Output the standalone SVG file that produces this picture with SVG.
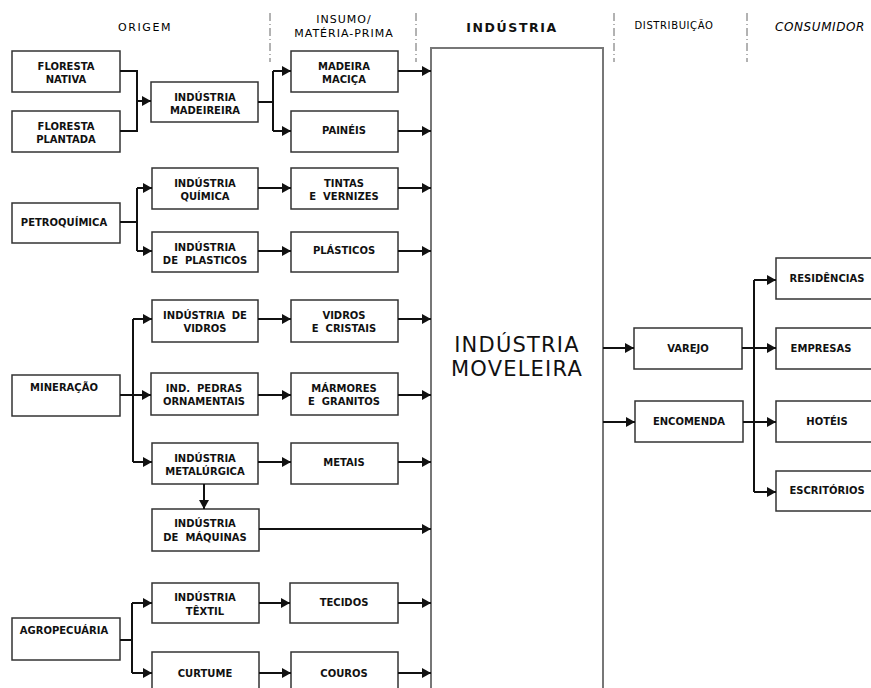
<svg xmlns="http://www.w3.org/2000/svg" width="871" height="688" viewBox="0 0 871 688">
<defs>
<marker id="ah" markerWidth="10" markerHeight="11" refX="9" refY="5.5" orient="auto" markerUnits="userSpaceOnUse"><path d="M0,0.5 L9,5.5 L0,10.5 Z" fill="#111"/></marker>
<style>
.bx{fill:#fff;stroke:#333;stroke-width:1.5}
.big{fill:#fff;stroke:#777;stroke-width:2}
.t{font-family:"DejaVu Sans",sans-serif;font-size:10px;font-weight:bold;fill:#111;text-anchor:middle}
.h{font-family:"DejaVu Sans",sans-serif;font-size:11px;fill:#000;text-anchor:middle;letter-spacing:1px}
.sep{stroke:#666;stroke-width:1;stroke-dasharray:8 3 1 3;fill:none}
.c{fill:none;stroke:#111;stroke-width:2}
.a{fill:none;stroke:#111;stroke-width:2;marker-end:url(#ah)}
</style>
</defs>
<rect width="871" height="688" fill="#fff"/>
<g id="headers">
<text class="h" x="145" y="31" style="letter-spacing:1.6px">ORIGEM</text>
<text class="h" x="344" y="23">INSUMO/</text>
<text class="h" x="344" y="37">MATÉRIA-PRIMA</text>
<text class="t" x="512" y="32" style="font-size:12.5px;letter-spacing:1.6px">INDÚSTRIA</text>
<text class="h" x="674" y="29" style="font-size:10px;letter-spacing:0.6px">DISTRIBUIÇÃO</text>
<text class="h" x="820" y="31" style="font-size:12px;font-style:italic;letter-spacing:0.6px">CONSUMIDOR</text>
<path class="sep" d="M270 13 V62 M416 13 V62 M614 13 V62 M747 13 V62"/>
</g>
<g id="industria_moveleira">
<rect class="big" x="431" y="48" width="172" height="660"/>
<text class="t" x="517" y="352" style="font-size:21px;font-weight:normal;letter-spacing:1.2px">INDÚSTRIA</text>
<text class="t" x="517" y="376" style="font-size:21px;font-weight:normal;letter-spacing:1.2px">MOVELEIRA</text>
</g>
<g id="floresta_nativa"><rect class="bx" x="12" y="51" width="108" height="41"/><text class="t" x="66" y="70">FLORESTA</text><text class="t" x="66" y="83">NATIVA</text></g>
<g id="floresta_plantada"><rect class="bx" x="12" y="111" width="108" height="41"/><text class="t" x="66" y="130">FLORESTA</text><text class="t" x="66" y="143">PLANTADA</text></g>
<g id="petroquimica"><rect class="bx" x="12" y="203" width="108" height="40"/><text class="t" x="64" y="226">PETROQUÍMICA</text></g>
<g id="mineracao"><rect class="bx" x="12" y="375" width="108" height="41"/><text class="t" x="64" y="391">MINERAÇÃO</text></g>
<g id="agropecuaria"><rect class="bx" x="12" y="618" width="108" height="42"/><text class="t" x="64" y="634">AGROPECUÁRIA</text></g>
<g id="ind_madeireira"><rect class="bx" x="151" y="82" width="107" height="40"/><text class="t" x="205" y="101">INDÚSTRIA</text><text class="t" x="205" y="114">MADEIREIRA</text></g>
<g id="ind_quimica"><rect class="bx" x="152" y="168" width="106" height="41"/><text class="t" x="205" y="187">INDÚSTRIA</text><text class="t" x="205" y="200">QUÍMICA</text></g>
<g id="ind_plasticos"><rect class="bx" x="152" y="232" width="106" height="40"/><text class="t" x="205" y="251">INDÚSTRIA</text><text class="t" x="205" y="264" xml:space="preserve">DE  PLASTICOS</text></g>
<g id="ind_vidros"><rect class="bx" x="152" y="300" width="106" height="42"/><text class="t" x="205" y="319" xml:space="preserve">INDÚSTRIA  DE</text><text class="t" x="205" y="332">VIDROS</text></g>
<g id="ind_pedras"><rect class="bx" x="151" y="373" width="107" height="42"/><text class="t" x="204" y="392" xml:space="preserve">IND.  PEDRAS</text><text class="t" x="204" y="405">ORNAMENTAIS</text></g>
<g id="ind_metalurgica"><rect class="bx" x="152" y="443" width="106" height="41"/><text class="t" x="205" y="462">INDÚSTRIA</text><text class="t" x="205" y="475">METALÚRGICA</text></g>
<g id="ind_maquinas"><rect class="bx" x="152" y="509" width="107" height="42"/><text class="t" x="205" y="527">INDÚSTRIA</text><text class="t" x="205" y="541" xml:space="preserve">DE  MÁQUINAS</text></g>
<g id="ind_textil"><rect class="bx" x="152" y="583" width="107" height="40"/><text class="t" x="205" y="601">INDÚSTRIA</text><text class="t" x="205" y="615">TÊXTIL</text></g>
<g id="curtume"><rect class="bx" x="152" y="652" width="107" height="45"/><text class="t" x="205" y="677">CURTUME</text></g>
<g id="madeira_macica"><rect class="bx" x="291" y="51" width="107" height="41"/><text class="t" x="344" y="70">MADEIRA</text><text class="t" x="344" y="83">MACIÇA</text></g>
<g id="paineis"><rect class="bx" x="291" y="111" width="107" height="41"/><text class="t" x="344" y="134">PAINÉIS</text></g>
<g id="tintas"><rect class="bx" x="291" y="168" width="107" height="41"/><text class="t" x="344" y="187">TINTAS</text><text class="t" x="344" y="200" xml:space="preserve">E  VERNIZES</text></g>
<g id="plasticos"><rect class="bx" x="291" y="232" width="107" height="40"/><text class="t" x="344" y="254">PLÁSTICOS</text></g>
<g id="vidros_cristais"><rect class="bx" x="291" y="300" width="107" height="42"/><text class="t" x="344" y="319">VIDROS</text><text class="t" x="344" y="332" xml:space="preserve">E  CRISTAIS</text></g>
<g id="marmores"><rect class="bx" x="291" y="373" width="107" height="42"/><text class="t" x="344" y="392">MÁRMORES</text><text class="t" x="344" y="405" xml:space="preserve">E  GRANITOS</text></g>
<g id="metais"><rect class="bx" x="291" y="443" width="107" height="41"/><text class="t" x="344" y="466">METAIS</text></g>
<g id="tecidos"><rect class="bx" x="290" y="583" width="108" height="40"/><text class="t" x="344" y="606">TECIDOS</text></g>
<g id="couros"><rect class="bx" x="291" y="652" width="107" height="45"/><text class="t" x="344" y="677">COUROS</text></g>
<g id="varejo"><rect class="bx" x="634" y="328" width="108" height="41"/><text class="t" x="688" y="352">VAREJO</text></g>
<g id="encomenda"><rect class="bx" x="635" y="401" width="108" height="41"/><text class="t" x="689" y="425">ENCOMENDA</text></g>
<g id="residencias"><rect class="bx" x="776" y="258" width="102" height="41"/><text class="t" x="827" y="282">RESIDÊNCIAS</text></g>
<g id="empresas"><rect class="bx" x="776" y="328" width="102" height="41"/><text class="t" x="821" y="352">EMPRESAS</text></g>
<g id="hoteis"><rect class="bx" x="776" y="401" width="102" height="41"/><text class="t" x="827" y="425">HOTÉIS</text></g>
<g id="escritorios"><rect class="bx" x="776" y="471" width="102" height="40"/><text class="t" x="827" y="494">ESCRITÓRIOS</text></g>
<g id="connectors">
<path class="c" d="M120 71 H137 V131 H120"/>
<path class="a" d="M137 101 H151"/>
<path class="c" d="M258 102 H273 M273 71 V131"/>
<path class="a" d="M273 71 H291"/>
<path class="a" d="M273 131 H291"/>
<path class="a" d="M398 71 H431"/>
<path class="a" d="M398 131 H431"/>
<path class="c" d="M120 222 H137 M137 188 V251"/>
<path class="a" d="M137 188 H152"/>
<path class="a" d="M137 251 H152"/>
<path class="a" d="M258 188 H291"/>
<path class="a" d="M398 188 H431"/>
<path class="a" d="M258 251 H291"/>
<path class="a" d="M398 251 H431"/>
<path class="c" d="M133 319 V462"/>
<path class="a" d="M120 395 H151"/>
<path class="a" d="M133 319 H152"/>
<path class="a" d="M133 462 H152"/>
<path class="a" d="M258 319 H291"/>
<path class="a" d="M398 319 H431"/>
<path class="a" d="M258 395 H291"/>
<path class="a" d="M398 395 H431"/>
<path class="a" d="M258 462 H291"/>
<path class="a" d="M398 462 H431"/>
<path class="a" d="M204 484 V509"/>
<path class="a" d="M259 529 H431"/>
<path class="c" d="M120 640 H132 M132 603 V673"/>
<path class="a" d="M132 603 H152"/>
<path class="a" d="M132 673 H152"/>
<path class="a" d="M259 603 H290"/>
<path class="a" d="M398 603 H431"/>
<path class="a" d="M259 673 H291"/>
<path class="a" d="M398 673 H431"/>
<path class="a" d="M603 348 H634"/>
<path class="a" d="M603 422 H635"/>
<path class="c" d="M742 348 H754 M743 422 H754 M754 280 V492"/>
<path class="a" d="M754 280 H776"/>
<path class="a" d="M754 348 H776"/>
<path class="a" d="M754 422 H776"/>
<path class="a" d="M754 492 H776"/>
</g>
</svg>
